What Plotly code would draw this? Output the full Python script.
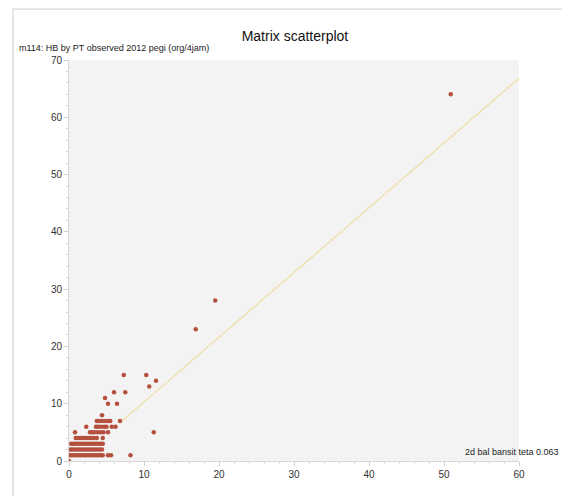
import plotly.graph_objects as go

# --- data ---
x_vals = [
    0.0,
    # y = 1 row
    0.0, 0.3, 0.6, 0.9, 1.2, 1.5, 1.8, 2.1, 2.4, 2.7, 3.0, 3.3, 3.6, 3.9, 4.2, 4.5, 5.2, 5.6, 8.2,
    # y = 2 row
    0.2, 0.5, 0.8, 1.1, 1.4, 1.7, 2.0, 2.3, 2.6, 2.9, 3.2, 3.5, 3.8, 4.1, 4.4,
    # y = 3 row
    0.3, 0.6, 0.9, 1.2, 1.5, 1.8, 2.1, 2.4, 2.7, 3.0, 3.3, 3.6, 3.9, 4.2, 4.5,
    # y = 4 row
    0.9, 1.2, 1.5, 1.8, 2.1, 2.4, 2.7, 3.0, 3.3, 3.7, 4.5,
    # y = 5 row
    0.8, 2.8, 3.1, 3.4, 3.8, 4.2, 4.6, 5.2, 11.3,
    # y = 6 row
    2.3, 3.6, 3.9, 4.3, 4.7, 5.0, 5.7, 6.2,
    # y = 7 row
    3.7, 4.0, 4.4, 4.8, 5.2, 5.5, 6.8,
    # higher values
    4.4, 5.2, 6.4, 4.8, 6.0, 7.5, 10.7, 11.6, 7.3, 10.3, 16.9, 19.5, 50.9,
]
y_vals = [
    0,
    1, 1, 1, 1, 1, 1, 1, 1, 1, 1, 1, 1, 1, 1, 1, 1, 1, 1, 1,
    2, 2, 2, 2, 2, 2, 2, 2, 2, 2, 2, 2, 2, 2, 2,
    3, 3, 3, 3, 3, 3, 3, 3, 3, 3, 3, 3, 3, 3, 3,
    4, 4, 4, 4, 4, 4, 4, 4, 4, 4, 4,
    5, 5, 5, 5, 5, 5, 5, 5, 5,
    6, 6, 6, 6, 6, 6, 6, 6,
    7, 7, 7, 7, 7, 7, 7,
    8, 10, 10, 11, 12, 12, 13, 14, 15, 15, 23, 28, 64,
]

fit_slope = 1.13
fit_intercept = -1.0
fit_x = [6.8, 60.0]
fit_y = [fit_intercept + fit_slope * v for v in fit_x]

x_tick_vals = [0, 10, 20, 30, 40, 50, 60]
y_tick_vals = [0, 10, 20, 30, 40, 50, 60, 70]

title_text = "Matrix scatterplot"
y_title = "m114: HB by PT observed 2012 pegi (org/4jam)"
x_title = "2d bal bansit teta 0.063"

fig = go.Figure()
fig.add_trace(go.Scatter(
    x=fit_x, y=fit_y, mode="lines",
    line=dict(color="#efe2b0", width=1.5),
    hoverinfo="skip", showlegend=False,
))
fig.add_trace(go.Scatter(
    x=x_vals, y=y_vals, mode="markers",
    marker=dict(color="#b5503e", size=4.5, line=dict(width=0)),
    showlegend=False,
))

axis_common = dict(
    showgrid=False, zeroline=False, showline=True, linecolor="#d8d8d8",
    ticks="outside", ticklen=4, tickcolor="#cfcfcf",
    tickfont=dict(family="Liberation Sans, Arial", size=10, color="#333"),
    minor=dict(ticks="outside", ticklen=2, tickcolor="#d8d8d8", dtick=2),
)

fig.update_xaxes(range=[0, 60], tickvals=x_tick_vals, **axis_common)
fig.update_yaxes(range=[0, 70], tickvals=y_tick_vals, **axis_common)

fig.update_layout(
    width=554, height=488,
    margin=dict(l=61, r=43, t=52, b=35),
    paper_bgcolor="white", plot_bgcolor="#f3f3f3",
    font=dict(family="Liberation Sans, Arial", color="#222"),
    title=dict(text=title_text, x=0.518, xanchor="center", y=0.943, yanchor="middle",
               font=dict(size=14, color="#111")),
    annotations=[
        dict(text=y_title, xref="paper", yref="paper", x=-0.115, y=1.012,
             xanchor="left", yanchor="bottom", showarrow=False,
             font=dict(size=9, color="#222")),
        dict(text=x_title, xref="paper", yref="paper", x=1.093, y=0.005,
             xanchor="right", yanchor="bottom", showarrow=False,
             font=dict(size=9, color="#222")),
    ],
    shapes=[
        dict(type="line", xref="paper", yref="paper", x0=-0.1244, x1=1.2, y0=1.127, y1=1.127,
             line=dict(color="#cccccc", width=1)),
        dict(type="line", xref="paper", yref="paper", x0=-0.1244, x1=-0.1244, y0=1.127, y1=-0.2,
             line=dict(color="#cccccc", width=1)),
    ],
)

fig.write_html("out.html")
